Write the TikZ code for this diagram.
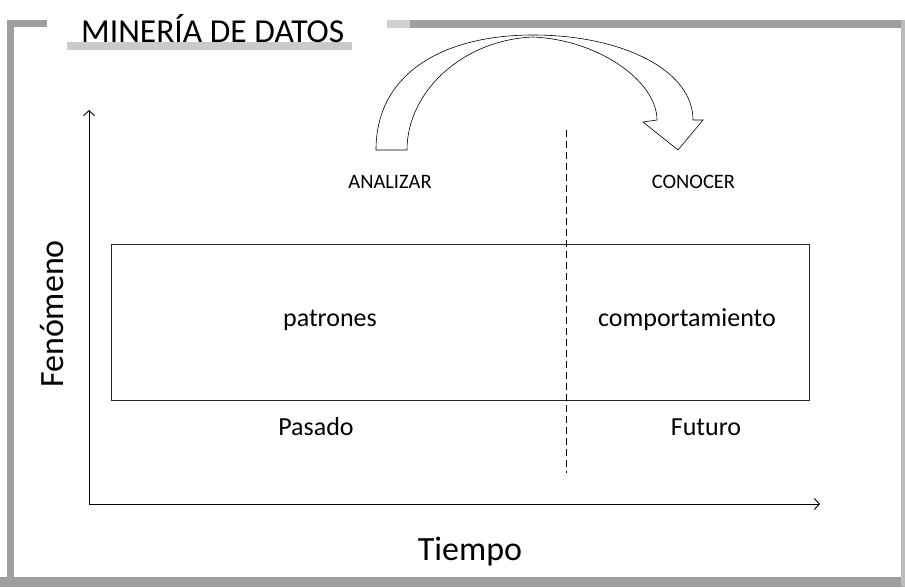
\documentclass[tikz,border=0pt]{standalone}
\usepackage{fontspec}
\setmainfont{Carlito}
\usetikzlibrary{arrows.meta}
\definecolor{framegray}{gray}{0.62}
\tikzset{
  axis/.style={line width=0.9pt, -{Straight Barb[length=5pt,width=11pt,line width=0.9pt]}},
  lbl/.style={inner sep=0pt, anchor=base, font=\fontsize{26}{30}\selectfont},
  small/.style={inner sep=0pt, anchor=base, font=\fontsize{20.5}{24}\selectfont},
  big/.style={inner sep=0pt, anchor=base, font=\fontsize{34}{40}\selectfont},
  frame/.style={fill=framegray, draw=none},
}
\begin{document}
\begin{tikzpicture}[x=1pt,y=-1pt]
\useasboundingbox (0,0) rectangle (905,587);
% frame
\fill[frame] (7,20) rectangle (47,27);
\fill[frame] (7,20) rectangle (14,587);
\fill[frame] (0,577) rectangle (905,587);
\fill[framegray!50] (387,20) rectangle (410,28);
\fill[frame] (410,20) rectangle (905,28);
\fill[framegray!70] (901,20) rectangle (905,587);
\fill[framegray!55] (67,42) rectangle (352,50);
% title
\node[inner sep=0pt, anchor=base west, font=\fontsize{33.5}{40}\selectfont] (title) at (81,42) {MINERÍA DE DATOS};
% axes
\coordinate (O) at (89,504);
\coordinate (ytop) at (89,110);
\coordinate (xend) at (820,504);
\draw[axis] (O) -- (ytop);
\draw[axis] (O) -- (xend);
% box
\node[draw=black!85, line width=0.8pt, minimum width=698pt, minimum height=156pt, inner sep=0pt, anchor=north west] (box) at (111,244) {};
% dashed divider
\coordinate (dtop) at (566,130);
\coordinate (dbot) at (566,473);
\draw[line width=0.9pt, dash pattern=on 7pt off 4pt] (dtop) -- (dbot);
% curved arrow
\draw[line width=0.6pt, line join=miter]
  (376,150) .. controls (376,72) and (445,35) .. (533,35)
            .. controls (622,35) and (693,70) .. (693,120)
  -- (703,120) -- (678,150) -- (643,122) -- (657,120)
  .. controls (657,82) and (600,40) .. (533,37)
  .. controls (462,40) and (407,92) .. (407,150) -- cycle;
% labels
\node[small] (analizar) at (390,188) {ANALIZAR};
\node[small] (conocer) at (693.5,188) {CONOCER};
\node[lbl] (patrones) at (330,326) {patrones};
\node[lbl] (comport) at (687,326) {comportamiento};
\node[lbl] (pasado) at (316,435) {Pasado};
\node[lbl] (futuro) at (706,435) {Futuro};
\node[big] (tiempo) at (470,560) {Tiempo};
\node[big, rotate=90] (fenomeno) at (63,314) {Fenómeno};
\end{tikzpicture}
\end{document}
